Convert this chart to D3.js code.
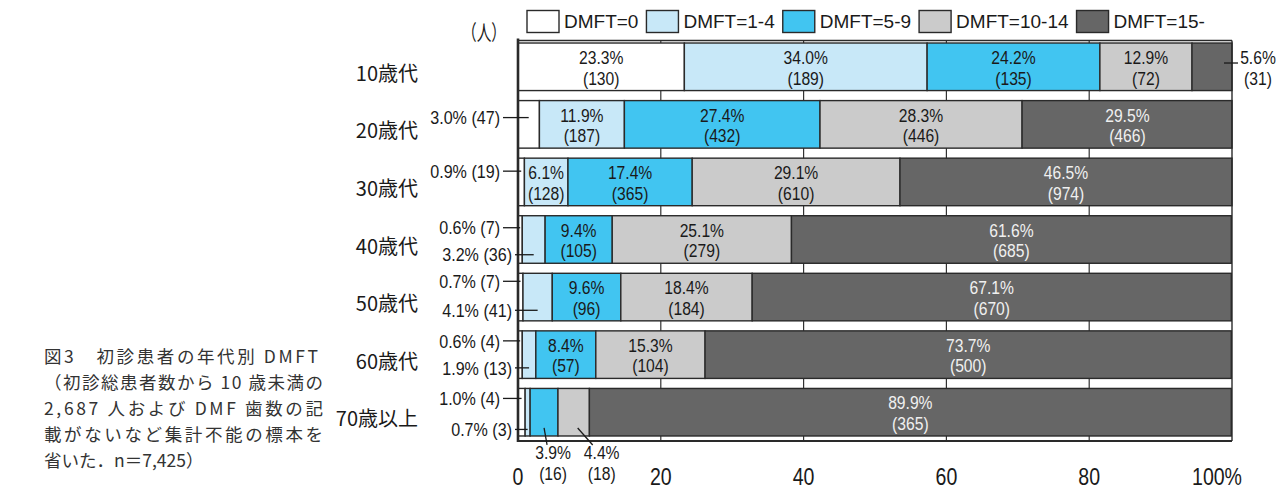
<!DOCTYPE html>
<html><head><meta charset="utf-8">
<script src="https://cdn.jsdelivr.net/npm/d3@7"></script>
<style>
body{margin:0;background:#fff}
svg{display:block}
.lat{font-family:"Liberation Sans",Arial,sans-serif}
.jp{font-family:"Noto Sans CJK JP","Noto Sans CJK SC",sans-serif}
</style></head><body>
<svg id="chart" width="1286" height="496"></svg>
<script>
// Age groups and DMFT classes
const ageGroups = ["10歳代", "20歳代", "30歳代", "40歳代", "50歳代", "60歳代", "70歳以上"];
const seriesNames = ["DMFT=0", "DMFT=1-4", "DMFT=5-9", "DMFT=10-14", "DMFT=15-"];

// Share of patients (%) per age group
const pctDMFT0    = [23.3,  3.0,  0.9,  0.6,  0.7,  0.6,  1.0];
const pctDMFT1_4  = [34.0, 11.9,  6.1,  3.2,  4.1,  1.9,  0.7];
const pctDMFT5_9  = [24.2, 27.4, 17.4,  9.4,  9.6,  8.4,  3.9];
const pctDMFT10_14= [12.9, 28.3, 29.1, 25.1, 18.4, 15.3,  4.4];
const pctDMFT15   = [ 5.6, 29.5, 46.5, 61.6, 67.1, 73.7, 89.9];

// Number of patients per age group
const nDMFT0     = [130,  47,  19,   7,   7,   4,   4];
const nDMFT1_4   = [189, 187, 128,  36,  41,  13,   3];
const nDMFT5_9   = [135, 432, 365, 105,  96,  57,  16];
const nDMFT10_14 = [ 72, 446, 610, 279, 184, 104,  18];
const nDMFT15    = [ 31, 466, 974, 685, 670, 500, 365];

const xTicks = [0, 20, 40, 60, 80, 100];
const xTickLabels = ["0", "20", "40", "60", "80", "100%"];

const captionLines = [
  "図3　初診患者の年代別 DMFT",
  "（初診総患者数から 10 歳未満の",
  "2,687 人および DMF 歯数の記",
  "載がないなど集計不能の標本を",
  "省いた．n＝7,425）"
];

const pctSeries = [pctDMFT0, pctDMFT1_4, pctDMFT5_9, pctDMFT10_14, pctDMFT15];
const nSeries = [nDMFT0, nDMFT1_4, nDMFT5_9, nDMFT10_14, nDMFT15];
const colors = ["#ffffff", "#c8e8f8", "#41c5f1", "#cbcbcb", "#666666"];

// Rows for the stack layout
const rows = ageGroups.map((g, i) => {
  const r = {group: g};
  seriesNames.forEach((s, j) => { r[s] = pctSeries[j][i]; });
  return r;
});
const stacked = d3.stack().keys(seriesNames)(rows);

const svg = d3.select("#chart");
const x = d3.scaleLinear().domain([0, 100]).range([518, 1232]);
const y = d3.scaleBand().domain(ageGroups).range([41, 438]).paddingInner(0.174).paddingOuter(0.035);
const frameTop = 40.5, frameBottom = 441;

// horizontally condensed text, drawn around its own anchor point
function condText(parent, px, py, str, o = {}) {
  const g = parent.append("g")
    .attr("transform", `translate(${px},${py}) scale(${o.sx || 0.87},1)`);
  return g.append("text")
    .attr("class", "lat")
    .attr("font-size", o.size || 18)
    .attr("text-anchor", o.anchor || "middle")
    .attr("dy", o.dy || null)
    .attr("fill", o.fill || "#1a1a1a")
    .text(str);
}

// vertical grid lines (visible in the gaps between bars)
svg.append("g").selectAll("line").data(xTicks.slice(1, -1)).join("line")
  .attr("x1", d => x(d)).attr("x2", d => x(d))
  .attr("y1", frameTop).attr("y2", frameBottom)
  .attr("stroke", "#333").attr("stroke-width", 1.2);

// stacked bars
const gBars = svg.append("g");
stacked.forEach((layer, j) => {
  gBars.append("g").selectAll("rect").data(layer).join("rect")
    .attr("x", d => x(d[0]))
    .attr("width", d => Math.min(x(d[1]), x(100)) - x(d[0]))
    .attr("y", d => y(d.data.group))
    .attr("height", y.bandwidth())
    .attr("fill", colors[j])
    .attr("stroke", "#2a2a2a").attr("stroke-width", 1.4);
});

// frame
const frame = svg.append("g").attr("fill", "none").attr("stroke", "#2a2a2a");
frame.append("line").attr("x1", x(0)).attr("x2", x(100)).attr("y1", frameTop).attr("y2", frameTop).attr("stroke-width", 1.4);
frame.append("line").attr("x1", x(0)).attr("x2", x(100)).attr("y1", frameBottom).attr("y2", frameBottom).attr("stroke-width", 2);
frame.append("line").attr("x1", x(100)).attr("x2", x(100)).attr("y1", frameTop).attr("y2", frameBottom).attr("stroke-width", 1.4);
frame.append("line").attr("x1", x(0)).attr("x2", x(0)).attr("y1", frameTop - 2).attr("y2", frameBottom + 1).attr("stroke-width", 2.6);

const pctText = (j, i) => pctSeries[j][i].toFixed(1) + "%";
const nText = (j, i) => "(" + nSeries[j][i] + ")";
const segMid = (j, i) => { const d = stacked[j][i]; return (x(d[0]) + x(d[1])) / 2; };

// labels inside the segments
const gLab = svg.append("g");
stacked.forEach((layer, j) => {
  layer.forEach((d, i) => {
    if (pctSeries[j][i] < 6) return;
    const top = y(d.data.group);
    const fill = j === 4 ? "#f0f0f0" : "#1a1a1a";
    condText(gLab, segMid(j, i), top + 21, pctText(j, i), {fill});
    condText(gLab, segMid(j, i), top + 41.5, nText(j, i), {fill});
  });
});

// callouts to the left of the axis for the thin segments
const leftCallouts = [
  {row: 1, s: 0, dy: 17, tier: "upper"},
  {row: 2, s: 0, dy: 13, tier: "upper"},
  {row: 3, s: 0, dy: 12, tier: "upper"}, {row: 3, s: 1, dy: 39, tier: "lower"},
  {row: 4, s: 0, dy: 8,  tier: "upper"}, {row: 4, s: 1, dy: 37, tier: "lower"},
  {row: 5, s: 0, dy: 10, tier: "upper"}, {row: 5, s: 1, dy: 37, tier: "lower"},
  {row: 6, s: 0, dy: 10, tier: "upper"}, {row: 6, s: 1, dy: 41, tier: "lower"}
];
const gCall = svg.append("g");
leftCallouts.forEach(c => {
  const yy = y(ageGroups[c.row]) + c.dy;
  const textEnd = c.tier === "upper" ? x(0) - 18 : x(0) - 6;
  gCall.append("line").attr("x1", textEnd + 3).attr("x2", segMid(c.s, c.row))
    .attr("y1", yy).attr("y2", yy).attr("stroke", "#1a1a1a").attr("stroke-width", 1.3);
  condText(gCall, textEnd, yy, pctText(c.s, c.row) + " " + nText(c.s, c.row),
    {anchor: "end", dy: "0.36em", size: 18.5});
});

// callout to the right of the 10歳代 bar
{
  const top = y(ageGroups[0]);
  gCall.append("line").attr("x1", x(100) - 8).attr("x2", x(100) + 6)
    .attr("y1", top + 20).attr("y2", top + 20).attr("stroke", "#1a1a1a").attr("stroke-width", 1.3);
  condText(gCall, x(100) + 26, top + 21, pctText(4, 0));
  condText(gCall, x(100) + 26, top + 41.5, nText(4, 0));
}

// callouts below the 70歳以上 bar
const belowCallouts = [
  {row: 6, s: 2, lx0: 0, lx1: 3, tx: 9},
  {row: 6, s: 3, lx0: 4, lx1: 19, tx: 28}
];
belowCallouts.forEach(c => {
  const bottom = y(ageGroups[c.row]) + y.bandwidth();
  const m = segMid(c.s, c.row);
  gCall.append("line").attr("x1", m + c.lx0).attr("x2", m + c.lx1)
    .attr("y1", bottom - 8).attr("y2", bottom + 9).attr("stroke", "#1a1a1a").attr("stroke-width", 1.3);
  condText(gCall, m + c.tx, bottom + 23.5, pctText(c.s, c.row));
  condText(gCall, m + c.tx, bottom + 44, nText(c.s, c.row));
});

// x axis tick labels
const gTicks = svg.append("g");
xTicks.forEach((d, i) => {
  const last = i === xTicks.length - 1;
  condText(gTicks, last ? x(d) - 15 : x(d), 485, xTickLabels[i], {size: 23, sx: 0.85});
});

// age group labels
svg.append("g").attr("class", "jp").attr("font-size", 20).attr("fill", "#1a1a1a")
  .selectAll("text").data(ageGroups).join("text")
  .attr("x", 418).attr("y", d => y(d) + y.bandwidth() / 2 + 14)
  .attr("text-anchor", "end").text(d => d);

// unit
svg.append("text").attr("class", "jp").attr("font-size", 21).attr("fill", "#1a1a1a")
  .attr("x", 462).attr("y", 40).attr("textLength", 44).attr("lengthAdjust", "spacingAndGlyphs")
  .text("（人）");

// legend
const legend = svg.append("g").attr("class", "lat").attr("font-size", 19);
let lx = 527;
seriesNames.forEach((s, j) => {
  legend.append("rect").attr("x", lx).attr("y", 10.5).attr("width", 32).attr("height", 22)
    .attr("fill", colors[j]).attr("stroke", "#2a2a2a").attr("stroke-width", 1.4);
  const t = legend.append("text").attr("x", lx + 37).attr("y", 28).attr("fill", "#1a1a1a").text(s);
  lx += 37 + t.node().getComputedTextLength() + 8;
});

// figure caption
const captionEnds = [318, 323, 323, 323, null];
svg.append("g").attr("class", "jp").attr("font-size", 17.5).attr("fill", "#333")
  .selectAll("text").data(captionLines).join("text")
  .attr("x", 44).attr("y", (d, i) => 363 + i * 26)
  .attr("textLength", (d, i) => captionEnds[i] ? captionEnds[i] - 44 : null)
  .attr("lengthAdjust", "spacing")
  .text(d => d);
</script>
</body></html>
